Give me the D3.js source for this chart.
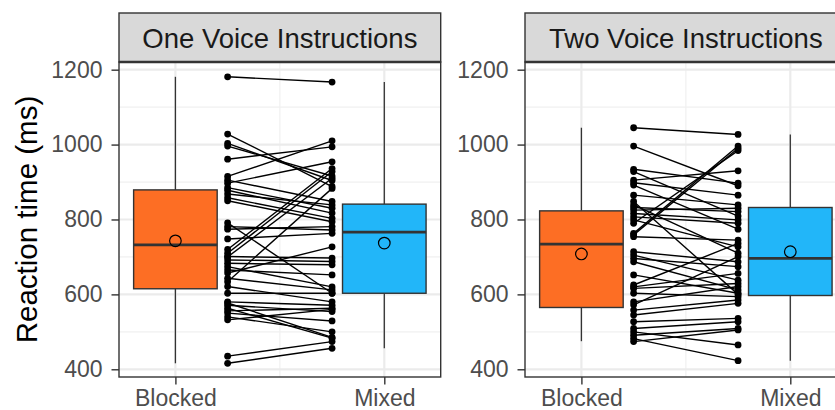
<!DOCTYPE html>
<html>
<head>
<meta charset="utf-8">
<script src="https://cdn.jsdelivr.net/npm/d3@7"></script>
<style>
  body { margin: 0; background: #fff; }
  text { font-family: "Liberation Sans", Arial, sans-serif; }
</style>
</head>
<body>
<div id="chart"></div>
<script>
// datos
var panels = ["One Voice Instructions", "Two Voice Instructions"];
var conditions = ["Blocked", "Mixed"];
var yTicks = [400, 600, 800, 1000, 1200];

// reaction times per subject (blocked -> mixed), one voice
var oneBlocked = [1181, 1028, 1003, 996, 961, 915, 905, 897, 885, 878, 868, 858, 850, 791, 781, 774, 748,
  720, 710, 701, 692, 683, 674, 665, 657, 643, 634, 621, 603, 580, 571, 563, 556, 550, 540, 532, 435, 416, 577, 700];
var oneMixed = [1167, 888, 904, 916, 994, 1010, 848, 954, 830, 817, 839, 803, 794, 603, 772, 781, 763,
  936, 928, 697, 688, 679, 620, 652, 727, 612, 883, 580, 603, 571, 554, 483, 563, 529, 500, 560, 474, 456, 485, 910];

// two voices
var twoBlocked = [1045, 996, 934, 928, 905, 898, 892, 865, 839, 832, 825, 816, 807, 799, 790, 763, 759, 754,
  714, 705, 696, 687, 652, 625, 616, 603, 580, 572, 558, 545, 527, 509, 500, 491, 482, 474, 848, 620];
var twoMixed = [1027, 890, 897, 809, 930, 865, 774, 839, 710, 821, 830, 799, 790, 727, 984, 996, 990, 745,
  687, 638, 674, 612, 603, 736, 629, 594, 621, 701, 585, 576, 536, 527, 465, 509, 423, 505, 600, 656];

// boxplot stats [panel][condition]
var boxLow  = [[416, 456], [475, 423]];
var boxQ1   = [[615, 603], [565, 597]];
var boxMed  = [[732, 766], [734, 696]];
var boxQ3   = [[879, 841], [823, 832]];
var boxHigh = [[1181, 1167], [1045, 1027]];
var boxMean = [[743, 737], [708, 714]];

var fills = ["#FD6E24", "#22B6F9"];

var width = 835, height = 410;
var panelLeft = [119, 525];
var panelW = 321.7;
var stripTop = 13, panelTop = 62, panelBottom = 377;

var svg = d3.select("#chart").append("svg")
  .attr("width", width)
  .attr("height", height);

var eY = d3.scaleLinear().domain([379.4, 1220.5]).range([panelBottom, panelTop]);

panels.forEach(function(title, p) {
  var eX = d3.scaleLinear().domain([0.73, 2.27]).range([panelLeft[p], panelLeft[p] + panelW]);
  var g = svg.append("g");

  // fondo y rejilla
  g.append("rect")
    .attr("x", panelLeft[p]).attr("y", panelTop)
    .attr("width", panelW).attr("height", panelBottom - panelTop)
    .attr("fill", "#fff");

  var minorY = [500, 700, 900, 1100];
  g.selectAll(".minorY").data(minorY).enter().append("line")
    .attr("x1", panelLeft[p]).attr("x2", panelLeft[p] + panelW)
    .attr("y1", function(d) { return eY(d); }).attr("y2", function(d) { return eY(d); })
    .attr("stroke", "#F0F0F0").attr("stroke-width", 1.2);
  g.append("line")
    .attr("x1", eX(1.5)).attr("x2", eX(1.5))
    .attr("y1", panelTop).attr("y2", panelBottom)
    .attr("stroke", "#F0F0F0").attr("stroke-width", 1.2);
  g.selectAll(".majorY").data(yTicks).enter().append("line")
    .attr("x1", panelLeft[p]).attr("x2", panelLeft[p] + panelW)
    .attr("y1", function(d) { return eY(d); }).attr("y2", function(d) { return eY(d); })
    .attr("stroke", "#EBEBEB").attr("stroke-width", 2.2);
  g.selectAll(".majorX").data([1, 2]).enter().append("line")
    .attr("x1", function(d) { return eX(d); }).attr("x2", function(d) { return eX(d); })
    .attr("y1", panelTop).attr("y2", panelBottom)
    .attr("stroke", "#EBEBEB").attr("stroke-width", 2.2);

  // cajas
  conditions.forEach(function(c, k) {
    var cx = eX(k + 1);
    g.append("line")
      .attr("x1", cx).attr("x2", cx)
      .attr("y1", eY(boxHigh[p][k])).attr("y2", eY(boxQ3[p][k]))
      .attr("stroke", "#333").attr("stroke-width", 1.3);
    g.append("line")
      .attr("x1", cx).attr("x2", cx)
      .attr("y1", eY(boxQ1[p][k])).attr("y2", eY(boxLow[p][k]))
      .attr("stroke", "#333").attr("stroke-width", 1.3);
    g.append("rect")
      .attr("x", eX(k + 0.8)).attr("width", eX(k + 1.2) - eX(k + 0.8))
      .attr("y", eY(boxQ3[p][k])).attr("height", eY(boxQ1[p][k]) - eY(boxQ3[p][k]))
      .attr("fill", fills[k]).attr("stroke", "#333").attr("stroke-width", 1.4);
    g.append("line")
      .attr("x1", eX(k + 0.8)).attr("x2", eX(k + 1.2))
      .attr("y1", eY(boxMed[p][k])).attr("y2", eY(boxMed[p][k]))
      .attr("stroke", "#333").attr("stroke-width", 2.8);
    g.append("circle")
      .attr("cx", cx).attr("cy", eY(boxMean[p][k])).attr("r", 5.8)
      .attr("fill", "none").attr("stroke", "#000").attr("stroke-width", 1.2);
  });

  // lineas emparejadas
  var left = p == 0 ? oneBlocked : twoBlocked;
  var right = p == 0 ? oneMixed : twoMixed;
  var pairs = left.map(function(d, i) { return {a: d, b: right[i]}; });

  g.selectAll(".pair").data(pairs).enter().append("line")
    .attr("x1", eX(1.25)).attr("x2", eX(1.75))
    .attr("y1", function(d) { return eY(d.a); })
    .attr("y2", function(d) { return eY(d.b); })
    .attr("stroke", "#000").attr("stroke-width", 1.4);
  g.selectAll(".ptA").data(pairs).enter().append("circle")
    .attr("cx", eX(1.25)).attr("cy", function(d) { return eY(d.a); })
    .attr("r", 3.4).attr("fill", "#000");
  g.selectAll(".ptB").data(pairs).enter().append("circle")
    .attr("cx", eX(1.75)).attr("cy", function(d) { return eY(d.b); })
    .attr("r", 3.4).attr("fill", "#000");

  // borde del panel
  g.append("rect")
    .attr("x", panelLeft[p]).attr("y", panelTop)
    .attr("width", panelW).attr("height", panelBottom - panelTop)
    .attr("fill", "none").attr("stroke", "#333").attr("stroke-width", 1.4);

  // strip
  g.append("rect")
    .attr("x", panelLeft[p]).attr("y", stripTop)
    .attr("width", panelW).attr("height", panelTop - stripTop)
    .attr("fill", "#D9D9D9").attr("stroke", "#333").attr("stroke-width", 1.4);
  g.append("line")
    .attr("x1", panelLeft[p]).attr("x2", panelLeft[p] + panelW)
    .attr("y1", panelTop).attr("y2", panelTop)
    .attr("stroke", "#333").attr("stroke-width", 2.4);
  g.append("text")
    .attr("x", panelLeft[p] + panelW / 2).attr("y", 48.3)
    .attr("text-anchor", "middle")
    .attr("font-size", 27.5).attr("fill", "#1A1A1A")
    .text(title);

  // eje Y
  var yAxis = d3.axisLeft(eY).tickValues(yTicks).tickSize(7.5).tickPadding(9).tickFormat(d3.format("d"));
  var ay = g.append("g")
    .attr("transform", "translate(" + panelLeft[p] + ",0)")
    .call(yAxis);
  ay.select(".domain").remove();
  ay.selectAll("line").attr("stroke", "#333").attr("stroke-width", 1.4);
  ay.selectAll("text").attr("font-size", 23).attr("fill", "#4D4D4D")
    .attr("font-family", "Liberation Sans, Arial, sans-serif");

  // eje X
  var xAxis = d3.axisBottom(eX).tickValues([1, 2]).tickSize(7.5).tickPadding(5)
    .tickFormat(function(d) { return conditions[d - 1]; });
  var ax = g.append("g")
    .attr("transform", "translate(0," + panelBottom + ")")
    .call(xAxis);
  ax.select(".domain").remove();
  ax.selectAll("line").attr("stroke", "#333").attr("stroke-width", 1.4);
  ax.selectAll("text").attr("font-size", 23).attr("fill", "#4D4D4D")
    .attr("font-family", "Liberation Sans, Arial, sans-serif");
});

// titulo del eje Y
svg.append("text")
  .attr("transform", "translate(37," + ((panelTop + panelBottom) / 2) + ") rotate(-90)")
  .attr("text-anchor", "middle")
  .attr("font-size", 29.5).attr("fill", "#000")
  .text("Reaction time (ms)");
</script>
</body>
</html>
